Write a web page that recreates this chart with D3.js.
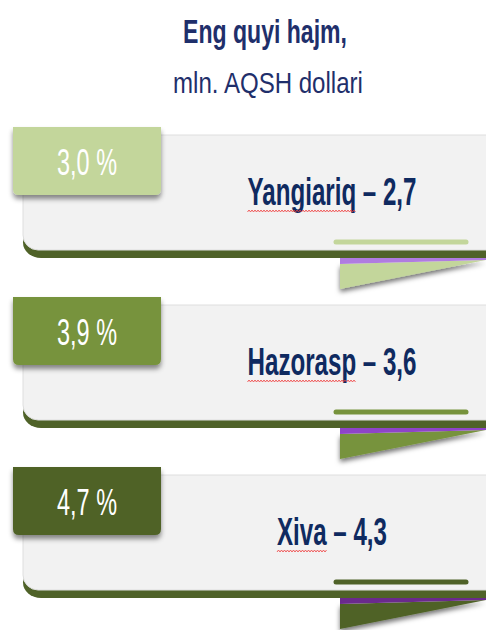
<!DOCTYPE html>
<html>
<head>
<meta charset="utf-8">
<script src="https://cdn.jsdelivr.net/npm/d3@7"></script>
<style>
  body { margin: 0; background: #fff; }
  svg { display: block; }
  text { font-family: "Liberation Sans Narrow", "Liberation Sans", Arial, sans-serif; }
</style>
</head>
<body>
<svg id="chart"></svg>
<script>
'use strict';
// data
var regions = ['Yangiariq', 'Hazorasp', 'Xiva'];
var volumes = [2.7, 3.6, 4.3];      // mln. AQSH dollari
var shares = [3.0, 3.9, 4.7];       // %
var titleLines = ['Eng quyi hajm,', 'mln. AQSH dollari'];

var width = 486, height = 630;
var svg = d3.select('#chart').attr('width', width).attr('height', height);

var uz = d3.formatLocale({decimal: ',', thousands: ' ', grouping: [3], currency: ['', '']});
var fmt = uz.format('.1f');

// colours per panel
var labelColor = d3.scaleOrdinal().domain(regions).range(['#c3d69b', '#77933c', '#4f6228']);
var purpleColor = d3.scaleOrdinal().domain(regions).range(['#b07ce0', '#8e44c8', '#6a2a8c']);

// each panel gets a band (top of label box)
var yBand = d3.scaleBand().domain(regions).range([127, 127 + 170 * regions.length]);

var defs = svg.append('defs');
var sh = defs.append('filter').attr('id', 'shadow').attr('x', '-20%').attr('y', '-20%').attr('width', '140%').attr('height', '160%');
sh.append('feDropShadow').attr('dx', 0).attr('dy', 4).attr('stdDeviation', 2.5).attr('flood-color', '#000').attr('flood-opacity', 0.45);
var sh2 = defs.append('filter').attr('id', 'shadow2').attr('x', '-20%').attr('y', '-50%').attr('width', '140%').attr('height', '250%');
sh2.append('feDropShadow').attr('dx', 0).attr('dy', 3).attr('stdDeviation', 2.5).attr('flood-color', '#000').attr('flood-opacity', 0.55);

// squeeze a centred text to a given width and stretch it a bit vertically
function fit(sel, cx, cy, targetW, sy) {
    sel.each(function() {
        var w = this.getComputedTextLength();
        var sx = targetW / w;
        d3.select(this).attr('x', 0).attr('y', 0)
            .attr('transform', 'translate(' + cx + ',' + cy + ') scale(' + sx + ',' + sy + ')');
    });
}

// title
svg.append('text')
    .attr('text-anchor', 'middle').attr('font-weight', 'bold').attr('font-size', 30)
    .attr('fill', '#1f2f6b')
    .text(titleLines[0])
    .call(fit, 265, 43, 164, 1.08);
svg.append('text')
    .attr('text-anchor', 'middle').attr('font-size', 27)
    .attr('fill', '#1f2f6b')
    .text(titleLines[1])
    .call(fit, 268, 93, 190, 1.08);

var data = regions.map(function(r, i) {
    return {region: r, volume: volumes[i], share: shares[i]};
});

var panel = svg.selectAll('g.panel').data(data).enter().append('g')
    .attr('class', 'panel')
    .attr('transform', function(d) { return 'translate(0,' + yBand(d.region) + ')'; });

// fold under the card
panel.append('path')
    .attr('d', 'M340,137 L486,133 L340,162 Z')
    .attr('fill', function(d) { return labelColor(d.region); })
    .attr('filter', 'url(#shadow2)');
panel.append('path')
    .attr('d', 'M340,130 L486,130 L486,133 L340,137 Z')
    .attr('fill', function(d) { return purpleColor(d.region); });

// dark bottom edge
panel.append('rect')
    .attr('x', 23).attr('y', 100).attr('width', 490).attr('height', 31)
    .attr('rx', 18).attr('fill', '#4f6228');

// card
panel.append('rect')
    .attr('x', 23).attr('y', 8).attr('width', 480).attr('height', 115)
    .attr('rx', 15).attr('fill', '#f2f2f2').attr('stroke', '#dedede').attr('stroke-width', 1);

// highlight bar
panel.append('line')
    .attr('x1', 336).attr('x2', 466).attr('y1', 115).attr('y2', 115)
    .attr('stroke', function(d) { return labelColor(d.region); })
    .attr('stroke-width', 5).attr('stroke-linecap', 'round');

// label box
panel.append('path')
    .attr('d', 'M13,0 H161 V62 Q161,68 155,68 H19 Q13,68 13,62 Z')
    .attr('fill', function(d) { return labelColor(d.region); })
    .attr('filter', 'url(#shadow)');

panel.append('text')
    .attr('text-anchor', 'middle').attr('font-size', 30).attr('fill', '#fff')
    .text(function(d) { return fmt(d.share) + ' %'; })
    .call(fit, 87, 48, 60, 1.25);

// name – value
panel.append('text')
    .attr('text-anchor', 'middle').attr('font-weight', 'bold').attr('font-size', 32)
    .attr('fill', '#0f2a60')
    .text(function(d) { return d.region + ' \u2013 ' + fmt(d.volume); })
    .each(function(d) {
        var full = this.getComputedTextLength();
        var nameLen = this.getSubStringLength(0, d.region.length);
        var target = d.region === 'Xiva' ? 110 : 169;
        d.start = 332 - target / 2;
        d.nameW = target * nameLen / full;
        d3.select(this).call(fit, 332, 78, target, 1.2);
    });

// spell-check wavy underline under the region name
panel.append('path')
    .attr('d', function(d) {
        var pts = [];
        for (var x = 0, k = 0; x <= d.nameW; x += 1.5, k++) {
            pts.push([d.start + x, 84 + (k % 2 ? -1 : 1)]);
        }
        return d3.line()(pts);
    })
    .attr('fill', 'none').attr('stroke', '#f03c3c').attr('stroke-width', 0.8);
</script>
</body>
</html>
